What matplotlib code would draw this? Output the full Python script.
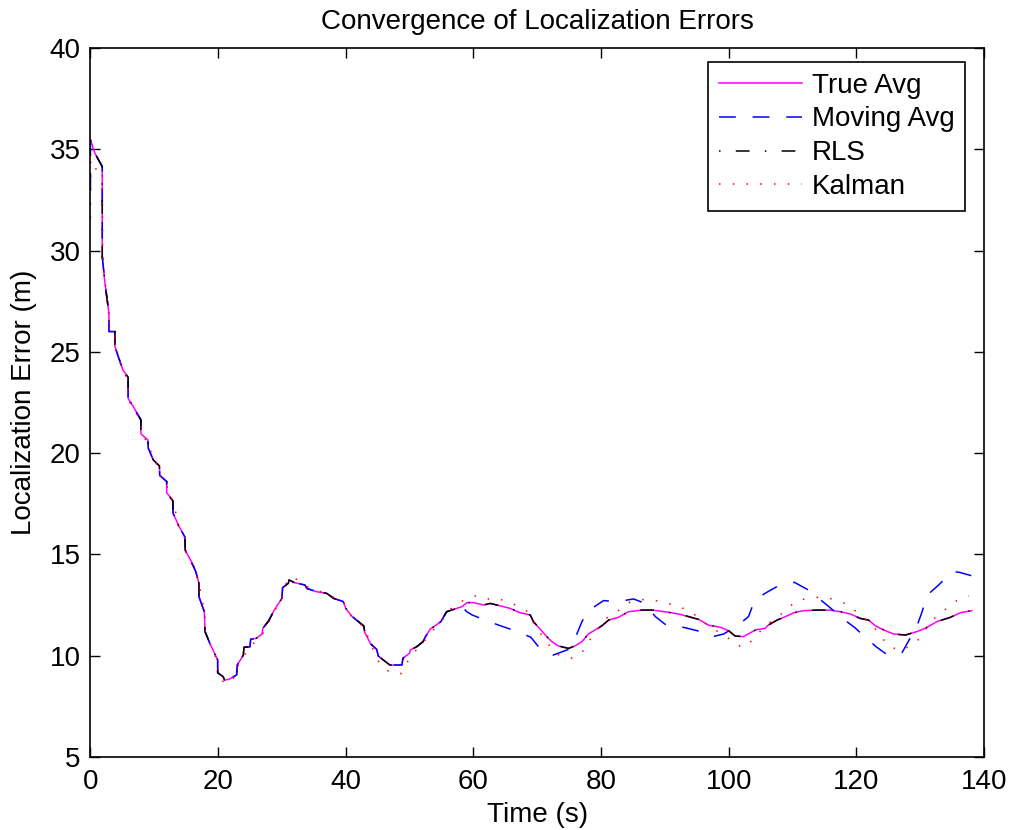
import numpy as np
import matplotlib
matplotlib.use("Agg")
import matplotlib.pyplot as plt

plt.rcParams['font.family'] = ['Liberation Sans', 'DejaVu Sans']

# True average
true_t = [0, 0.7, 1.85, 1.85, 2.27, 2.9, 2.9, 3.84, 3.84, 4.36,
          5.1, 5.9, 5.9, 6.7, 7.9, 7.9, 9.0, 9.06, 9.85, 10.8,
          10.85, 11.94, 11.94, 12.9, 12.95, 13.77, 14.8, 14.85, 15.8, 16.5,
          17.0, 17.0, 17.84, 17.95, 18.7, 19.93, 19.93, 20.8, 21.0, 21.7,
          22.9, 23.0, 23.95, 24.05, 25.0, 25.1, 26.0, 26.9, 27.0, 27.9,
          28.8, 30.0, 30.1, 31.0, 31.1, 32.0, 33.6, 33.9, 35.4, 37.0,
          38.1, 39.6, 40.0, 40.9, 42.8, 43.0, 43.9, 44.85, 45.1, 46.9,
          48.8, 48.95, 50.0, 50.1, 51.1, 52.1, 52.5, 53.2, 54.9, 55.8,
          58.2, 59.0, 60.0, 61.6, 62.6, 63.7, 65.7, 67.3, 68.9, 69.4,
          70.2, 71.5, 72.3, 73.3, 74.9, 75.9, 77.0, 78.0, 80.1, 81.2,
          82.7, 84.3, 86.4, 88.0, 90.0, 92.1, 93.7, 95.3, 96.8, 98.7,
          100.0, 101.0, 102.3, 104.2, 105.7, 106.2, 107.6, 108.9, 110.2, 111.7,
          113.8, 115.9, 117.5, 119.05, 120.6, 121.9, 123.0, 124.3, 125.8, 127.7,
          129.5, 130.8, 132.6, 134.7, 136.3, 138.1]
true_v = [35.46, 34.8, 34.14, 29.7, 28.4, 26.9, 26.0, 26.0, 25.26, 24.76,
          24.1, 23.74, 22.7, 22.3, 21.64, 20.95, 20.65, 20.24, 19.66, 19.37,
          18.9, 18.6, 18.05, 17.65, 17.03, 16.45, 15.85, 15.2, 14.65, 14.15,
          13.57, 12.91, 12.17, 11.19, 10.61, 9.79, 9.16, 8.96, 8.8, 8.83,
          9.05, 9.54, 10.03, 10.41, 10.44, 10.81, 10.86, 11.07, 11.35, 11.71,
          12.25, 12.83, 13.36, 13.57, 13.74, 13.6, 13.49, 13.32, 13.16, 13.08,
          12.83, 12.67, 12.34, 11.96, 11.47, 11.14, 10.58, 10.31, 9.98, 9.54,
          9.54, 9.87, 10.12, 10.28, 10.44, 10.69, 10.94, 11.3, 11.68, 12.17,
          12.42, 12.62, 12.62, 12.5, 12.58, 12.5, 12.34, 12.12, 12.01, 11.68,
          11.4, 10.94, 10.69, 10.48, 10.36, 10.48, 10.69, 11.07, 11.47, 11.76,
          11.89, 12.17, 12.25, 12.25, 12.17, 12.06, 11.93, 11.79, 11.51, 11.4,
          11.23, 10.97, 10.94, 11.27, 11.35, 11.51, 11.76, 11.93, 12.12, 12.22,
          12.25, 12.25, 12.17, 12.06, 11.84, 11.76, 11.47, 11.27, 11.07, 11.02,
          11.19, 11.35, 11.68, 11.89, 12.12, 12.22]

# RLS lies on top of the true average
rls_t = list(true_t)
rls_v = list(true_v)

# Moving average: same as true until ~58 s, then wanders
mov_t0, mov_v0 = 0, 33.0
mov_t_tail = [58.96, 59.8, 62.0, 64.3, 66.9, 69.0, 70.3, 72.5, 74.9, 76.0,
              77.0, 78.0, 80.4, 82.6, 85.1, 86.9, 88.5, 90.2, 92.9, 95.1,
              97.1, 99.2, 101.3, 103.1, 104.05, 105.7, 108.0, 110.3, 112.5, 114.1,
              116.0, 117.6, 119.7, 121.2, 123.1, 124.9, 127.1, 128.2, 129.5, 130.3,
              131.1, 132.9, 134.6, 135.3, 136.2, 138.0]
mov_v_tail = [12.17, 12.01, 11.73, 11.47, 11.19, 10.91, 10.4, 10.03, 10.31, 10.91,
              11.68, 12.22, 12.72, 12.67, 12.8, 12.58, 11.93, 11.51, 11.4, 11.23,
              10.91, 11.07, 11.47, 11.93, 12.72, 13.08, 13.49, 13.62, 13.24, 12.83,
              12.34, 11.89, 11.4, 10.97, 10.44, 10.03, 10.12, 10.74, 11.47, 12.17,
              12.99, 13.49, 14.03, 14.15, 14.11, 13.95]

n_shared = true_t.index(58.2) + 1
mov_t = [mov_t0] + true_t[:n_shared] + mov_t_tail
mov_v = [mov_v0] + true_v[:n_shared] + mov_v_tail

# Kalman filter estimate
kal_t = [0, 0.05, 1.0, 1.85, 1.9, 2.3, 2.9, 3.0, 3.9, 3.9,
         4.4, 5.2, 5.9, 6.0, 6.8, 7.9, 8.0, 9.1, 9.9, 10.9,
         11.0, 12.0, 12.1, 13.0, 13.8, 14.9, 15.0, 16.5, 17.1, 17.9,
         18.0, 18.8, 19.9, 20.04, 21.3, 22.8, 23.1, 24.0, 25.1, 26.0,
         27.0, 28.0, 28.9, 30.0, 30.9, 32.4, 34.0, 35.5, 37.0, 38.2,
         39.6, 40.1, 41.0, 42.9, 44.0, 45.4, 46.9, 48.6, 49.4, 50.5,
         52.0, 53.5, 55.0, 56.0, 57.2, 58.7, 60.2, 61.9, 63.6, 65.1,
         67.1, 68.5, 70.1, 71.4, 72.3, 73.75, 75.5, 77.0, 77.9, 80.0,
         81.1, 82.7, 84.0, 85.6, 87.4, 89.3, 90.8, 92.6, 94.1, 95.5,
         96.8, 98.1, 99.7, 100.9, 102.5, 103.7, 105.2, 107.4, 109.0, 110.3,
         112.0, 113.9, 115.8, 117.5, 119.05, 120.2, 121.6, 122.9, 123.9, 125.1,
         126.8, 128.2, 129.8, 130.8, 131.7, 133.2, 134.6, 136.0, 137.6]
kal_v = [31.6, 34.5, 33.95, 34.0, 29.8, 28.4, 26.8, 26.0, 25.9, 25.2,
         24.7, 24.0, 23.6, 22.6, 22.2, 21.5, 20.9, 20.5, 19.6, 19.3,
         18.8, 18.5, 18.0, 17.6, 16.4, 15.7, 15.1, 14.1, 13.4, 12.1,
         11.1, 10.5, 9.75, 8.93, 8.6, 9.0, 9.5, 10.0, 10.4, 10.8,
         11.1, 11.7, 12.25, 12.85, 13.8, 13.77, 13.4, 13.2, 13.1, 12.85,
         12.7, 12.3, 11.9, 11.4, 10.5, 9.54, 9.18, 9.1, 9.57, 10.1,
         10.6, 11.2, 11.7, 12.2, 12.5, 12.78, 12.95, 12.78, 12.86, 12.67,
         12.45, 12.17, 11.23, 10.77, 10.28, 9.95, 9.87, 10.15, 10.64, 11.51,
         11.93, 12.22, 12.58, 12.75, 12.78, 12.67, 12.55, 12.37, 12.17, 11.81,
         11.47, 11.23, 10.94, 10.56, 10.41, 10.77, 11.3, 11.89, 12.22, 12.65,
         12.81, 12.88, 12.83, 12.68, 12.45, 12.09, 11.73, 11.35, 10.91, 10.48,
         10.25, 10.44, 10.81, 11.27, 11.71, 12.09, 12.45, 12.78, 12.95]

x_ticks = [0, 20, 40, 60, 80, 100, 120, 140]
y_ticks = [5, 10, 15, 20, 25, 30, 35, 40]

fig = plt.figure(figsize=(10.13, 8.30), dpi=100)
ax = fig.add_axes([0.0893, 0.088, 0.8821, 0.8542])

ax.plot(true_t, true_v, color='#ff00ff', lw=1.1, label='True Avg')
ax.plot(mov_t, mov_v, color='#0000ff', lw=1.1, linestyle=(0, (11, 11)), label='Moving Avg')
ax.plot(rls_t, rls_v, color='black', lw=1.1, linestyle=(0, (1, 10, 9, 10)), label='RLS')
ax.plot(kal_t, kal_v, color='#ff0000', lw=1.1, linestyle=(0, (1, 8)), label='Kalman')

ax.set_xlim(0, 140)
ax.set_ylim(5, 40)
ax.set_xticks(x_ticks)
ax.set_yticks(y_ticks)
ax.tick_params(direction='in', top=True, right=True, length=7, width=1.0,
               labelsize=20)
ax.tick_params(axis='x', pad=9)
ax.tick_params(axis='y', pad=7)
for s in ax.spines.values():
    s.set_linewidth(1.2)

ax.set_title('Convergence of Localization Errors', fontsize=20, pad=14)
ax.set_xlabel('Time (s)', fontsize=20, labelpad=5)
ax.set_ylabel('Localization Error (m)', fontsize=20, labelpad=9)

leg = ax.legend(loc='upper right', bbox_to_anchor=(0.979, 0.980), borderaxespad=0,
                fontsize=20, handlelength=3.0, handletextpad=0.35,
                labelspacing=0.28, borderpad=0.38, fancybox=False,
                framealpha=1, edgecolor='black')
leg.get_frame().set_linewidth(1.2)

fig.savefig('out.png', dpi=100)
